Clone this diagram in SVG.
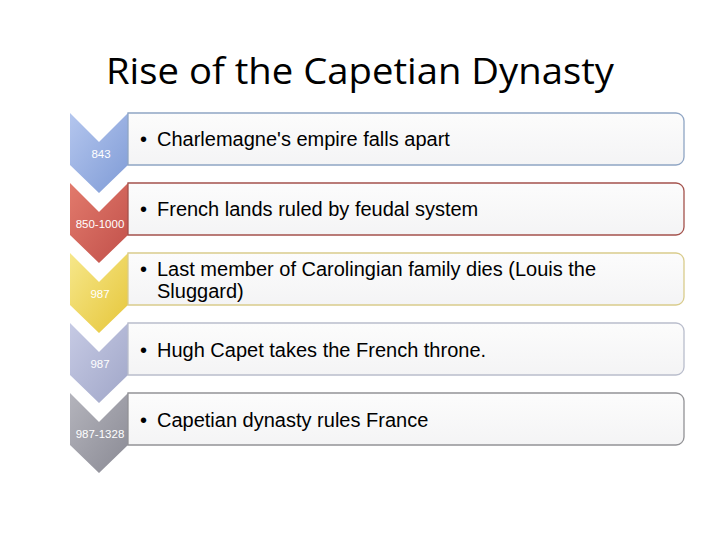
<svg xmlns="http://www.w3.org/2000/svg" width="720" height="540" viewBox="0 0 720 540">
  <style>
    .title { font-family: "Open Sans", "Liberation Sans", sans-serif; font-size: 37px; fill: #000; }
    .body { font-family: "Liberation Sans", Arial, sans-serif; font-size: 20px; fill: #000; }
    .lbl { font-family: "Liberation Sans", Arial, sans-serif; font-size: 11.5px; fill: #fff; text-anchor: middle; }
    .box { fill: url(#boxg); stroke-width: 1.3; }
  </style>
  <defs>
    <linearGradient id="boxg" x1="0" y1="0" x2="0" y2="1">
      <stop offset="0" stop-color="#fcfcfc"/>
      <stop offset="1" stop-color="#f4f4f5"/>
    </linearGradient>
    <linearGradient id="gBlue" x1="0" y1="0" x2="1" y2="1">
      <stop offset="0" stop-color="#b4c6ee"/>
      <stop offset="1" stop-color="#7f9bd6"/>
    </linearGradient>
    <linearGradient id="gRed" x1="0" y1="0" x2="1" y2="1">
      <stop offset="0" stop-color="#e27a6c"/>
      <stop offset="1" stop-color="#c1504a"/>
    </linearGradient>
    <linearGradient id="gYellow" x1="0" y1="0" x2="1" y2="1">
      <stop offset="0" stop-color="#f6e78a"/>
      <stop offset="1" stop-color="#e6c63a"/>
    </linearGradient>
    <linearGradient id="gLav" x1="0" y1="0" x2="1" y2="1">
      <stop offset="0" stop-color="#c6cae4"/>
      <stop offset="1" stop-color="#a0a6c8"/>
    </linearGradient>
    <linearGradient id="gGray" x1="0" y1="0" x2="1" y2="1">
      <stop offset="0" stop-color="#b4b4bc"/>
      <stop offset="1" stop-color="#8a8a94"/>
    </linearGradient>
  </defs>
  <rect width="720" height="540" fill="#fff"/>
  <text class="title" x="106" y="84" textLength="508" lengthAdjust="spacingAndGlyphs">Rise of the Capetian Dynasty</text>

  <g id="node1">
    <path d="M70,113 L99,142 L128,113 L128,165 L99,193 L70,165 Z" fill="url(#gBlue)"/>
    <text class="lbl" x="101" y="158">843</text>
    <path class="box" stroke="#8fa5c4" d="M128,113 H676 A8,8 0 0 1 684,121 V157 A8,8 0 0 1 676,165 H128 Z"/>
    <text class="body" x="140" y="146">•</text>
    <text class="body" x="157" y="146">Charlemagne's empire falls apart</text>
  </g>

  <g id="node2">
    <path d="M70,183 L99,212 L128,183 L128,235 L99,263 L70,235 Z" fill="url(#gRed)"/>
    <text class="lbl" x="100" y="228">850-1000</text>
    <path class="box" stroke="#a4524c" d="M128,183 H676 A8,8 0 0 1 684,191 V227 A8,8 0 0 1 676,235 H128 Z"/>
    <text class="body" x="140" y="216">•</text>
    <text class="body" x="157" y="216">French lands ruled by feudal system</text>
  </g>

  <g id="node3">
    <path d="M70,253 L99,282 L128,253 L128,305 L99,333 L70,305 Z" fill="url(#gYellow)"/>
    <text class="lbl" x="100" y="298">987</text>
    <path class="box" stroke="#d9cc8c" d="M128,253 H676 A8,8 0 0 1 684,261 V297 A8,8 0 0 1 676,305 H128 Z"/>
    <text class="body" x="140" y="276">•</text>
    <text class="body" x="157" y="276">Last member of Carolingian family dies (Louis the</text>
    <text class="body" x="157" y="298">Sluggard)</text>
  </g>

  <g id="node4">
    <path d="M70,323 L99,352 L128,323 L128,375 L99,403 L70,375 Z" fill="url(#gLav)"/>
    <text class="lbl" x="100" y="368">987</text>
    <path class="box" stroke="#b9bdcc" d="M128,323 H676 A8,8 0 0 1 684,331 V367 A8,8 0 0 1 676,375 H128 Z"/>
    <text class="body" x="140" y="357">•</text>
    <text class="body" x="157" y="357">Hugh Capet takes the French throne.</text>
  </g>

  <g id="node5">
    <path d="M70,393 L99,422 L128,393 L128,445 L99,473 L70,445 Z" fill="url(#gGray)"/>
    <text class="lbl" x="100" y="438">987-1328</text>
    <path class="box" stroke="#929296" d="M128,393 H676 A8,8 0 0 1 684,401 V437 A8,8 0 0 1 676,445 H128 Z"/>
    <text class="body" x="140" y="427">•</text>
    <text class="body" x="157" y="427">Capetian dynasty rules France</text>
  </g>

  <g id="connectors"/>
</svg>
